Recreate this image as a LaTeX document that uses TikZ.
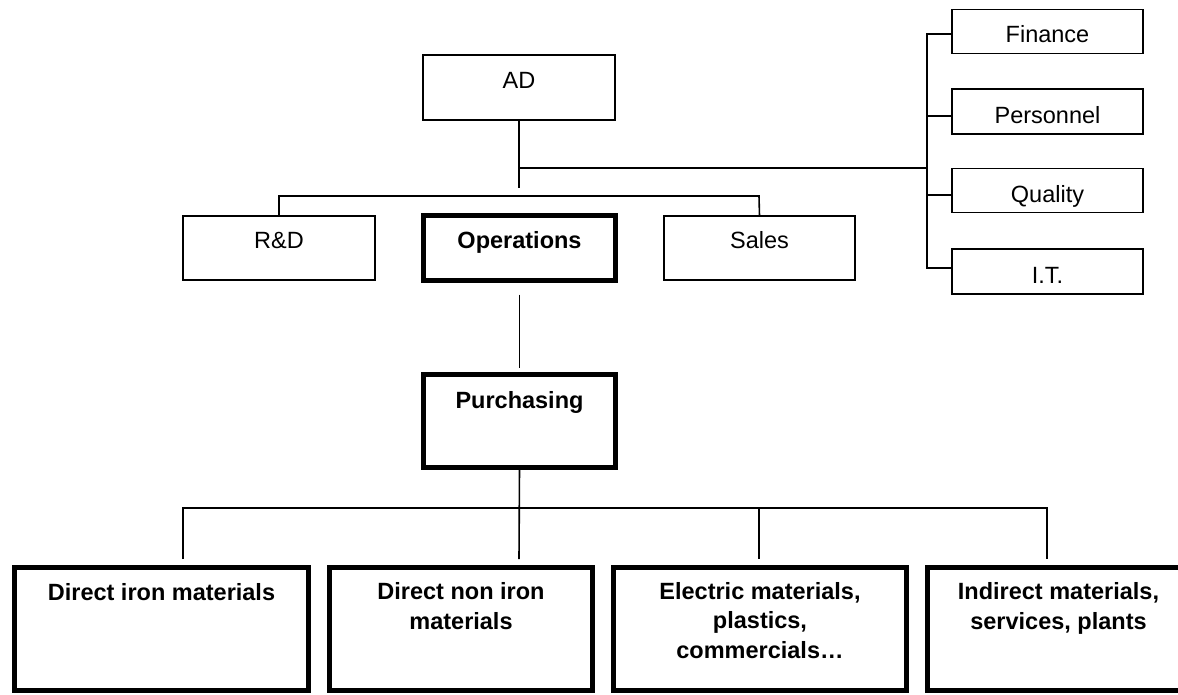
\documentclass[tikz,border=0pt]{standalone}
\usepackage{fontspec}
\setmainfont{Liberation Sans}
\begin{document}
\begin{tikzpicture}[x=1pt,y=-1pt,
  tbox/.style={draw, rectangle, line width=1.6pt, inner sep=0pt, outer sep=0pt},
  kbox/.style={draw, rectangle, line width=5pt, inner sep=0pt, outer sep=0pt},
  lbl/.style={font=\fontsize{23.5}{29}\selectfont, anchor=base, inner sep=0pt, align=center},
  blbl/.style={lbl, font=\fontsize{23.5}{29.5}\selectfont\bfseries},
  conn/.style={line width=1.6pt}]
\useasboundingbox (0,0) rectangle (1178,694);

% top
\node[tbox, minimum width=192pt, minimum height=65pt] (ad) at (519,87.5) {};
\node[lbl] (adt) at (519,88) {AD};

% middle row
\node[tbox, minimum width=192pt, minimum height=64pt] (rd) at (279,248) {};
\node[lbl] (rdt) at (279,248) {R\&D};
\node[kbox, minimum width=192pt, minimum height=65pt] (ops) at (519.5,248) {};
\node[blbl] (opst) at (519.5,248) {Operations};
\node[tbox, minimum width=191pt, minimum height=64pt] (sales) at (759.5,248) {};
\node[lbl] (salest) at (759.5,248) {Sales};

% staff boxes
\node[tbox, minimum width=191pt, minimum height=44pt] (fin) at (1047.5,31.5) {};
\node[lbl] (fint) at (1047.5,42) {Finance};
\node[tbox, minimum width=191pt, minimum height=45pt] (pers) at (1047.5,111.5) {};
\node[lbl] (perst) at (1047.5,123) {Personnel};
\node[tbox, minimum width=191pt, minimum height=44pt] (qual) at (1047.5,190.5) {};
\node[lbl] (qualt) at (1047.5,202) {Quality};
\node[tbox, minimum width=191pt, minimum height=45pt] (it) at (1047.5,271.5) {};
\node[lbl] (itt) at (1047.5,283) {I.T.};

% purchasing
\node[kbox, minimum width=192pt, minimum height=93pt] (pur) at (519.5,421) {};
\node[blbl] (purt) at (519.5,408) {Purchasing};

% bottom row (text anchored at the baseline of its last line)
\node[kbox, minimum width=294pt, minimum height=122.5pt] (b1) at (161.5,628.75) {};
\node[blbl] (b1t) at (161.5,600) {Direct iron materials};
\node[kbox, minimum width=263pt, minimum height=122.5pt] (b2) at (461,628.75) {};
\node[blbl] (b2t) at (461,629) {Direct non iron\\materials};
\node[kbox, minimum width=293pt, minimum height=122.5pt] (b3) at (760,628.75) {};
\node[blbl] (b3t) at (760,658) {Electric materials,\\plastics,\\commercials\ldots};
\node[kbox, minimum width=262pt, minimum height=122.5pt] (b4) at (1058.5,628.75) {};
\node[blbl] (b4t) at (1058.5,629) {Indirect materials,\\services, plants};

% connector coordinates
\coordinate (adend) at (519,188);
\coordinate (brk) at (927,168);
\coordinate (brtop) at (927,34);
\coordinate (brbot) at (927,268);
\coordinate (mrl) at (279,196);
\coordinate (mrr) at (759,196);
\coordinate (bl) at (183,508);
\coordinate (br) at (1047,508);
\coordinate (bmend) at (519,559);
\coordinate (t1) at (183,559);
\coordinate (t3) at (759,559);
\coordinate (t4) at (1047,559);
\coordinate (t3top) at (759,508);

% connectors
\draw[conn] (ad.south) -- (adend);
\draw[conn] (519,168) -- (brk);
\draw[conn] (fin.west |- brtop) -- (brtop) -- (brbot) -- (it.west |- brbot);
\draw[conn] (brk |- 0,116) -- (pers.west |- 0,116);
\draw[conn] (brk |- 0,195) -- (qual.west |- 0,195);
\draw[conn] (rd.north) -- (mrl) -- (mrr) -- (sales.north);
\draw[conn, shorten <=14pt, shorten >=7pt] (ops.south) -- (pur.north);
\draw[conn] (pur.south) -- (bmend);
\draw[conn] (t1) -- (bl) -- (br) -- (t4);
\draw[conn] (t3top) -- (t3);
\end{tikzpicture}
\end{document}
